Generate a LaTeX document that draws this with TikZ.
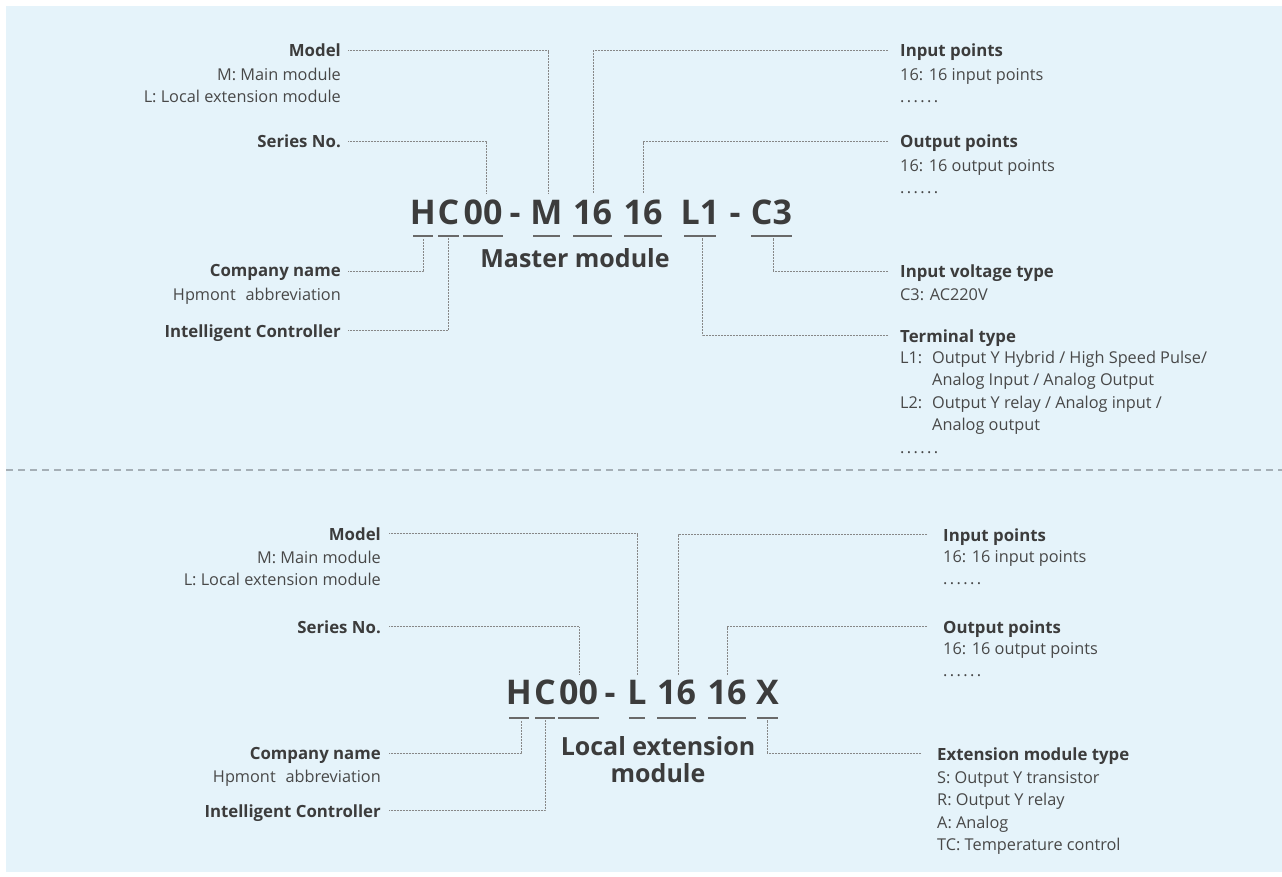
\documentclass[tikz,border=0pt]{standalone}
\usepackage{fontspec}
\setmainfont{Open Sans}
\usetikzlibrary{positioning}
\definecolor{panelblue}{RGB}{229,243,250}
\definecolor{inkgray}{RGB}{60,60,60}
\definecolor{txtgray}{RGB}{72,72,72}
\definecolor{leadgray}{RGB}{135,135,135}
\definecolor{ulgray}{RGB}{105,105,105}
\definecolor{sepgray}{RGB}{165,175,182}
\newcommand{\dotrow}{.\hspace{2.4pt}.\hspace{2.4pt}.\hspace{2.4pt}.\hspace{2.4pt}.\hspace{2.4pt}.}

\begin{document}
\begin{tikzpicture}[x=1pt,y=-1pt,
  title/.style={font=\fontsize{16.8}{20}\selectfont\bfseries, text=inkgray, inner sep=0pt, text depth=0pt},
  desc/.style={font=\fontsize{16.3}{22.5}\selectfont, text=txtgray, inner sep=0pt},
  code/.style={font=\fontsize{34}{34}\selectfont\bfseries, text=inkgray, inner sep=0pt, anchor=base},
  subname/.style={font=\fontsize{25}{26}\selectfont\bfseries, text=inkgray, inner sep=0pt, align=center},
  lead/.style={draw=leadgray, line width=0.7pt, dash pattern=on 0.7pt off 0.8pt},
  uline/.style={draw=ulgray, line width=2pt},
  sepline/.style={draw=sepgray, line width=1.5pt, dash pattern=on 7pt off 5pt}]
  \useasboundingbox (0,0) rectangle (1282,877);
  \fill[panelblue] (6,6) rectangle (1282,872);
  \draw[sepline] (6,470) -- (1282,470);

  % ---- master module ----
  \node[code] (mH) at (423,225) {H};
  \node[code] (mC) at (448.5,225) {C};
  \node[code] (m00) at (483,225) {00};
  \node[code] (mDashA) at (515,225) {-};
  \node[code] (mM) at (546.5,225) {M};
  \node[code] (m16a) at (592.5,225) {16};
  \node[code] (m16b) at (643,225) {16};
  \node[code] (mL1) at (700,225) {L1};
  \node[code] (mDashB) at (735,225) {-};
  \node[code] (mC3) at (771.5,225) {C3};
  \foreach \a/\b in {413/433,438/459,463/503,533/560,573/612,624/662,684/716,751/792}
    \draw[uline] (\a,236) -- (\b,236);
  \node[subname, anchor=base] (mSub) at (575,268) {Master module};

  \coordinate (mMtop) at (548,193);
  \coordinate (m00top) at (486,193);
  \coordinate (m16atop) at (593,193);
  \coordinate (m16btop) at (643,193);
  \coordinate (mHbot) at (423,238);
  \coordinate (mCbot) at (448,238);
  \coordinate (mL1bot) at (702,238);
  \coordinate (mC3bot) at (773,238);

  \node[title, anchor=base east] (mModel) at (341,57) {Model};
  \node[desc, align=right, below=7pt of mModel.south east, anchor=north east] (mModelD) {\strut M: Main module\\L: Local extension module};
  \node[title, anchor=base east] (mSeries) at (341,148) {Series No.};
  \node[title, anchor=base east] (mCompany) at (341,277) {Company name};
  \node[desc, align=right, below=7pt of mCompany.south east, anchor=north east] (mCompanyD) {\strut Hpmont\hspace{0.6em}abbreviation};
  \node[title, anchor=base east] (mIntel) at (341,337) {Intelligent Controller};

  \node[title, anchor=base west] (mInput) at (900,57) {Input points};
  \node[desc, align=left, below=7pt of mInput.south west, anchor=north west] (mInputD) {\strut 16: 16 input points\\\dotrow};
  \node[title, anchor=base west] (mOutput) at (900,148) {Output points};
  \node[desc, align=left, below=7pt of mOutput.south west, anchor=north west] (mOutputD) {\strut 16: 16 output points\\\dotrow};
  \node[title, anchor=base west] (mVolt) at (900,278) {Input voltage type};
  \node[desc, align=left, below=6pt of mVolt.south west, anchor=north west] (mVoltD) {\strut C3: AC220V};
  \node[title, anchor=base west] (mTerm) at (900,342) {Terminal type};
  \node[desc, align=left, below=5pt of mTerm.south west, anchor=north west] (mTermD) {\strut\makebox[32pt][l]{L1:}Output Y Hybrid / High Speed Pulse/\\\hspace*{32pt}Analog Input / Analog Output\\\makebox[32pt][l]{L2:}Output Y relay / Analog input /\\\hspace*{32pt}Analog output\\\dotrow};

  \draw[lead, shorten <=7pt] (mModel.east) -| (mMtop);
  \draw[lead, shorten <=7pt] (mSeries.east) -| (m00top);
  \draw[lead, shorten <=7pt] (mCompany.east) -| (mHbot);
  \draw[lead, shorten <=7pt] (mIntel.east) -| (mCbot);
  \draw[lead, shorten <=12pt] (mInput.west) -| (m16atop);
  \draw[lead, shorten <=12pt] (mOutput.west) -| (m16btop);
  \draw[lead, shorten <=12pt] (mVolt.west) -| (mC3bot);
  \draw[lead, shorten <=12pt] (mTerm.west) -| (mL1bot);

  % ---- local extension module ----
  \node[code] (lH) at (519,704) {H};
  \node[code] (lC) at (545,704) {C};
  \node[code] (l00) at (578.5,704) {00};
  \node[code] (lDash) at (610,704) {-};
  \node[code] (lL) at (637,704) {L};
  \node[code] (l16a) at (676.5,704) {16};
  \node[code] (l16b) at (727,704) {16};
  \node[code] (lX) at (767.5,704) {X};
  \foreach \a/\b in {509/529,535/555,558/599,629/645,657/696,708/746,757/778}
    \draw[uline] (\a,718) -- (\b,718);
  \node[subname, anchor=north] (lSub) at (658,736) {\strut Local extension\\module};

  \coordinate (lLtop) at (637,675);
  \coordinate (l00top) at (579,675);
  \coordinate (l16atop) at (678,675);
  \coordinate (l16btop) at (727,675);
  \coordinate (lHbot) at (521,720);
  \coordinate (lCbot) at (545,720);
  \coordinate (lXbot) at (767,720);

  \node[title, anchor=base east] (lModel) at (381,540) {Model};
  \node[desc, align=right, below=7pt of lModel.south east, anchor=north east] (lModelD) {\strut M: Main module\\L: Local extension module};
  \node[title, anchor=base east] (lSeries) at (381,633) {Series No.};
  \node[title, anchor=base east] (lCompany) at (381,759) {Company name};
  \node[desc, align=right, below=7pt of lCompany.south east, anchor=north east] (lCompanyD) {\strut Hpmont\hspace{0.6em}abbreviation};
  \node[title, anchor=base east] (lIntel) at (381,817) {Intelligent Controller};

  \node[title, anchor=base west] (lInput) at (943,541) {Input points};
  \node[desc, align=left, below=5pt of lInput.south west, anchor=north west] (lInputD) {\strut 16: 16 input points\\\dotrow};
  \node[title, anchor=base west] (lOutput) at (943,633) {Output points};
  \node[desc, align=left, below=5pt of lOutput.south west, anchor=north west] (lOutputD) {\strut 16: 16 output points\\\dotrow};
  \node[title, anchor=base west] (lExt) at (937,760) {Extension module type};
  \node[desc, align=left, below=7pt of lExt.south west, anchor=north west] (lExtD) {\strut S: Output Y transistor\\R: Output Y relay\\A: Analog\\TC: Temperature control};

  \draw[lead, shorten <=8pt] (lModel.east) -| (lLtop);
  \draw[lead, shorten <=8pt] (lSeries.east) -| (l00top);
  \draw[lead, shorten <=8pt] (lCompany.east) -| (lHbot);
  \draw[lead, shorten <=8pt] (lIntel.east) -| (lCbot);
  \draw[lead, shorten <=16pt] (lInput.west) -| (l16atop);
  \draw[lead, shorten <=16pt] (lOutput.west) -| (l16btop);
  \draw[lead, shorten <=16pt] (lExt.west) -| (lXbot);
\end{tikzpicture}
\end{document}
